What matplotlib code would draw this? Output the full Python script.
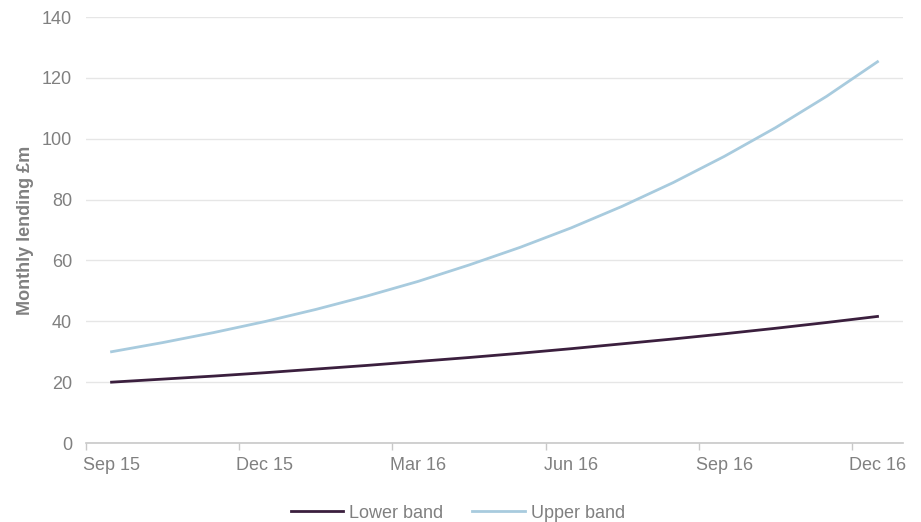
import numpy as np
import matplotlib.pyplot as plt

plt.rcParams['font.family'] = ['Liberation Sans', 'DejaVu Sans']

# month labels, Sep 15 .. Dec 16
months = ['Sep 15', 'Oct 15', 'Nov 15', 'Dec 15', 'Jan 16', 'Feb 16', 'Mar 16', 'Apr 16',
          'May 16', 'Jun 16', 'Jul 16', 'Aug 16', 'Sep 16', 'Oct 16', 'Nov 16', 'Dec 16']

# monthly lending, £m
lower_band = [20.0, 21.0, 22.0, 23.1, 24.3, 25.5, 26.8, 28.1,
              29.5, 31.0, 32.6, 34.2, 35.9, 37.7, 39.6, 41.6]
upper_band = [30.0, 33.0, 36.3, 39.9, 43.9, 48.3, 53.1, 58.5,
              64.3, 70.7, 77.8, 85.6, 94.2, 103.6, 113.9, 125.3]

GREY = '#808080'

fig = plt.figure(figsize=(9.21, 5.22), dpi=100)
ax = fig.add_axes([0.0934, 0.1513, 0.8871, 0.8161])

x = np.arange(len(months))
ax.plot(x, lower_band, color='#3b1f3e', lw=2, label='Lower band')
ax.plot(x, upper_band, color='#a8cbde', lw=2, label='Upper band')

ax.set_xlim(-0.5, len(months) - 0.5)
ax.set_ylim(0, 140)
ax.set_yticks(range(0, 141, 20))

# category axis: ticks on month boundaries, labels on every third month
ax.set_xticks(np.arange(-0.5, len(months) - 0.5, 3))
ax.set_xticklabels([])
ax.set_xticks(x[::3], minor=True)
ax.set_xticklabels(months[::3], minor=True)
ax.tick_params(axis='x', which='major', length=5, color='#c8c8c8', width=1)
ax.tick_params(axis='x', which='minor', length=0, pad=10, labelsize=13, labelcolor=GREY)
ax.tick_params(axis='y', length=0, pad=10, labelsize=13, labelcolor=GREY)

ax.grid(axis='y', color='#e6e6e6', lw=1)
ax.set_axisbelow(True)
for side in ['top', 'right', 'left']:
    ax.spines[side].set_visible(False)
ax.spines['bottom'].set_color('#c8c8c8')
ax.spines['bottom'].set_linewidth(1.2)

ax.set_ylabel('Monthly lending £m', fontsize=13, fontweight='bold', color=GREY, labelpad=6)

leg = ax.legend(loc='center', bbox_to_anchor=(0.455, -0.165), ncol=2, frameon=False,
                fontsize=13, handlelength=2.9, columnspacing=1.6, handletextpad=0.35)
for t in leg.get_texts():
    t.set_color(GREY)

fig.savefig('out.png', dpi=100)
